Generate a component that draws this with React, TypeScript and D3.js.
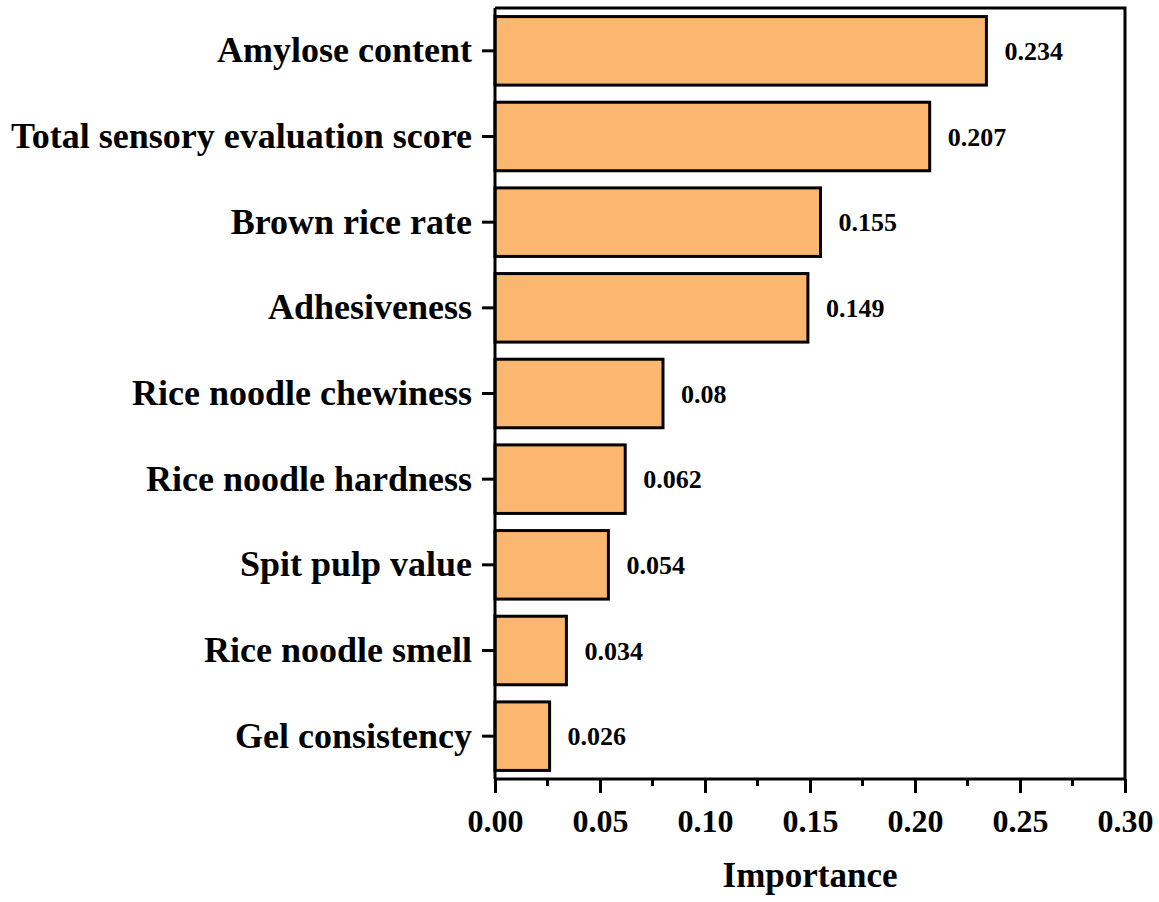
import { useRef, useEffect } from "react";
import * as d3 from "d3";

const categories = [
  "Amylose content",
  "Total sensory evaluation score",
  "Brown rice rate",
  "Adhesiveness",
  "Rice noodle chewiness",
  "Rice noodle hardness",
  "Spit pulp value",
  "Rice noodle smell",
  "Gel consistency",
];
const importance = [0.234, 0.207, 0.155, 0.149, 0.08, 0.062, 0.054, 0.034, 0.026];
const valueLabels = ["0.234", "0.207", "0.155", "0.149", "0.08", "0.062", "0.054", "0.034", "0.026"];
const xTicks = [0, 0.05, 0.1, 0.15, 0.2, 0.25, 0.3];
const xMinorTicks = [0.025, 0.075, 0.125, 0.175, 0.225, 0.275];

const W = 1159;
const H = 902;
const FONT = "'Liberation Serif', 'Times New Roman', serif";

export default function App() {
  const svgRef = useRef<SVGSVGElement>(null);

  useEffect(() => {
    if (!svgRef.current) return;
    const svg = d3.select(svgRef.current);
    svg.selectAll("*").remove();

    const left = 495;
    const right = 1125;
    const top = 8;
    const bottom = 779;

    const x = d3.scaleLinear().domain([0, 0.3]).range([left, right]);
    const y = d3
      .scaleBand()
      .domain(categories)
      .range([top, bottom])
      .paddingInner(0.2)
      .paddingOuter(0.1);

    const rows = categories.map((c, i) => ({ c, v: importance[i], label: valueLabels[i] }));

    // bars
    svg
      .append("g")
      .selectAll("rect")
      .data(rows)
      .join("rect")
      .attr("x", x(0))
      .attr("y", (d) => y(d.c)!)
      .attr("width", (d) => x(d.v) - x(0))
      .attr("height", y.bandwidth())
      .attr("fill", "#fbb76f")
      .attr("stroke", "#000")
      .attr("stroke-width", 3);

    // value labels
    svg
      .append("g")
      .selectAll("text")
      .data(rows)
      .join("text")
      .attr("x", (d) => x(d.v) + 18)
      .attr("y", (d) => y(d.c)! + y.bandwidth() / 2)
      .attr("dy", "0.35em")
      .attr("font-family", FONT)
      .attr("font-weight", "bold")
      .attr("font-size", 26)
      .text((d) => d.label);

    // frame top / right
    svg
      .append("path")
      .attr("d", `M${left},${top}H${right}V${bottom}`)
      .attr("fill", "none")
      .attr("stroke", "#000")
      .attr("stroke-width", 3);

    // x axis
    const xAxis = svg
      .append("g")
      .attr("transform", `translate(0,${bottom})`)
      .call(
        d3
          .axisBottom(x)
          .tickValues(xTicks)
          .tickSize(14)
          .tickPadding(16)
          .tickFormat(d3.format(".2f")),
      );
    xAxis
      .append("g")
      .selectAll("line")
      .data(xMinorTicks)
      .join("line")
      .attr("x1", (d) => x(d))
      .attr("x2", (d) => x(d))
      .attr("y1", 0)
      .attr("y2", 7)
      .attr("stroke", "#000")
      .attr("stroke-width", 3);
    xAxis
      .selectAll("text")
      .attr("fill", "#000")
      .attr("font-family", FONT)
      .attr("font-weight", "bold")
      .attr("font-size", 32);

    // y axis
    const yAxis = svg
      .append("g")
      .attr("transform", `translate(${left},0)`)
      .call(d3.axisLeft(y).tickSize(13).tickPadding(10));
    yAxis
      .selectAll("text")
      .attr("fill", "#000")
      .attr("font-family", FONT)
      .attr("font-weight", "bold")
      .attr("font-size", 36);

    svg.selectAll(".domain, .tick line").attr("stroke", "#000").attr("stroke-width", 3);
    xAxis.select(".domain").attr("d", `M${left},0H${right}`);
    yAxis.select(".domain").attr("d", `M0,${top}V${bottom}`);

    // axis title
    svg
      .append("text")
      .attr("x", (left + right) / 2)
      .attr("y", 887)
      .attr("text-anchor", "middle")
      .attr("font-family", FONT)
      .attr("font-weight", "bold")
      .attr("font-size", 35)
      .text("Importance");
  }, []);

  return (
    <svg
      ref={svgRef}
      width={W}
      height={H}
      viewBox={`0 0 ${W} ${H}`}
      style={{ position: "absolute", left: 0, top: 0, background: "#fff" }}
    />
  );
}
